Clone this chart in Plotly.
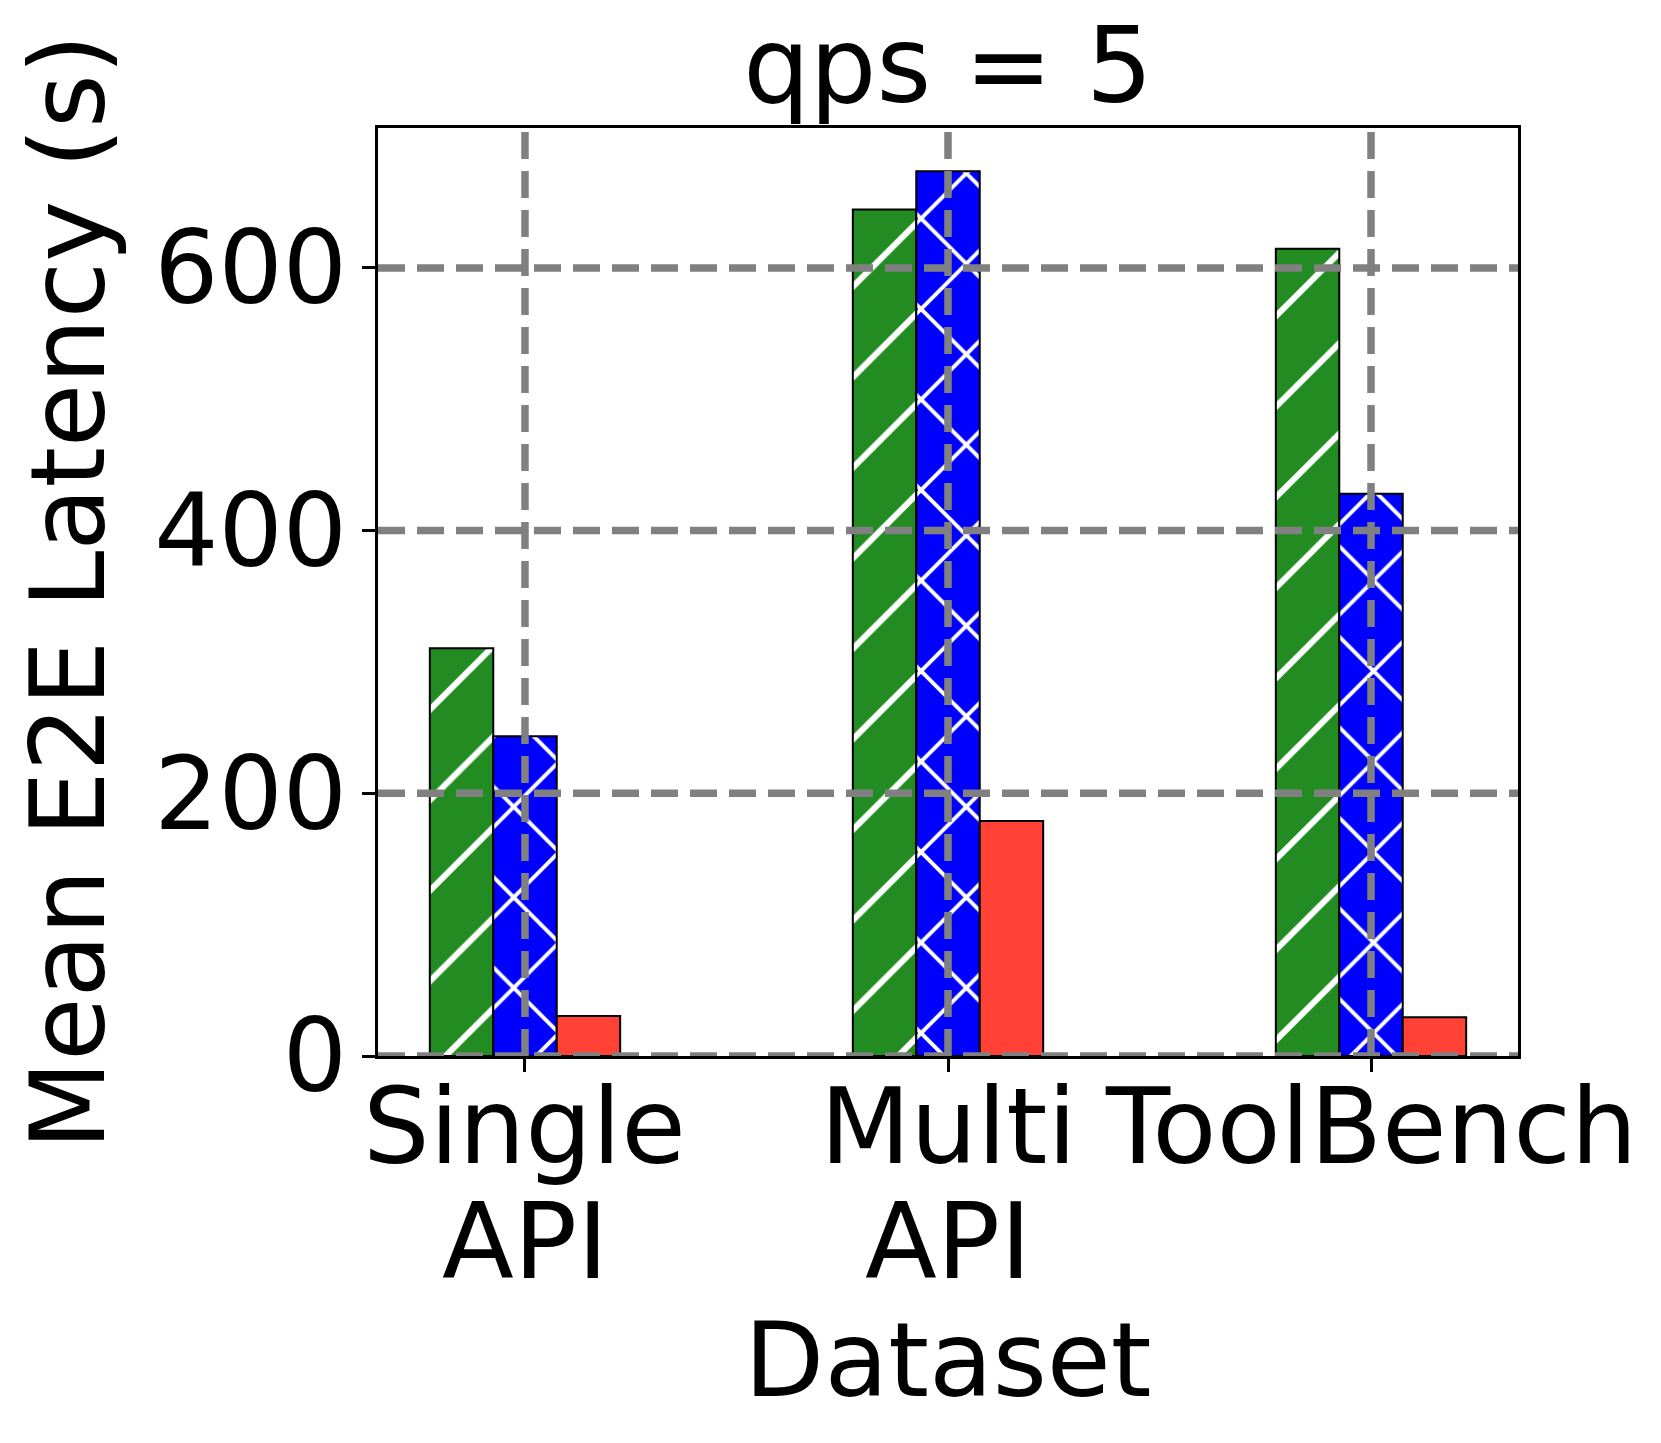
import plotly.graph_objects as go

# mean end-to-end latency at qps = 5
datasets = ["Single<br>API", "Multi<br>API", "ToolBench"]
method_a = [310.5, 644.5, 614.5]
method_b = [243.5, 673.5, 428.0]
method_c = [30.5, 179.0, 29.5]
y_ticks = [0, 200, 400, 600]

title = "qps = 5"
font_family = "DejaVu Sans"

series = [
  ("Method A", method_a, "#228b22", "/", 0.095),
  ("Method B", method_b, "#0000ff", "x", 0.12),
  ("Method C", method_c, "#ff4136", "", 0.1),
]

fig = go.Figure()
for name, vals, color, hatch, solid in series:
  fig.add_trace(go.Bar(
    x=list(range(len(datasets))), y=vals, name=name,
    marker=dict(color=color, line=dict(color="black", width=2),
                pattern=dict(shape=hatch, fgcolor="white", bgcolor=color,
                             size=64, solidity=solid, fillmode="replace")),
  ))

# dashed grid drawn over the bars, as in the original
grid = dict(color="#808080", width=7.5, dash="27px,12px")
for v in y_ticks:
  fig.add_shape(type="line", xref="paper", x0=0, x1=1, yref="y", y0=v, y1=v,
                line=grid, layer="above")
for i in range(len(datasets)):
  fig.add_shape(type="line", xref="x", x0=i, x1=i, yref="paper", y0=0, y1=1,
                line=grid, layer="above")

# category labels, one text per line (matplotlib-like tight line spacing)
line_shift = [-71, -186]
for i, lab in enumerate(datasets):
  for k, part in enumerate(lab.split("<br>")):
    fig.add_annotation(text=part, x=i, xref="x", y=0, yref="paper",
                       yshift=line_shift[k], yanchor="middle", xanchor="center",
                       showarrow=False, font=dict(size=105))

axis_style = dict(showline=True, mirror=True, linecolor="black", linewidth=2.5,
                  ticks="outside", ticklen=13, tickwidth=2.5, tickcolor="black",
                  showgrid=False, zeroline=False, automargin=False)

fig.update_layout(
  template="none",
  width=1653, height=1435,
  margin=dict(l=370, r=143, t=120, b=387),
  paper_bgcolor="white", plot_bgcolor="white",
  font=dict(family=font_family, size=101, color="black"),
  title=dict(text=title, x=0.5, xref="paper", xanchor="center",
             y=1 - 57.7 / 1435, yref="container", yanchor="middle",
             font=dict(size=105)),
  barmode="group", bargap=0.55, bargroupgap=0,
  showlegend=False,
)
fig.update_xaxes(range=[-0.3475, 2.3475], tickvals=list(range(len(datasets))),
                 showticklabels=False,
                 title=dict(text="Dataset", standoff=253, font=dict(size=104)),
                 **axis_style)
fig.update_yaxes(range=[0, 706.5], tickvals=y_ticks, ticklabelstandoff=-5,
                 tickfont=dict(size=101),
                 title=dict(text="Mean E2E Latency (s)", standoff=30, font=dict(size=103)),
                 **axis_style)

fig.write_html("out.html")
